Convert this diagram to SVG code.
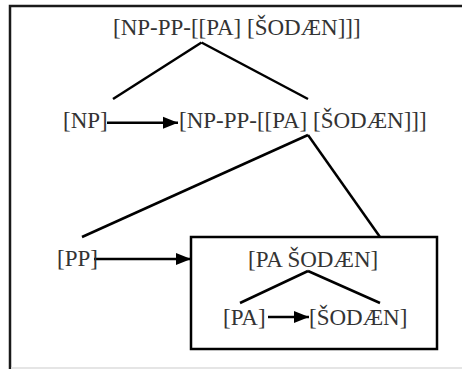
<svg xmlns="http://www.w3.org/2000/svg" width="462" height="369" viewBox="0 0 462 369">
<defs>
<style>
text{font-family:"Liberation Serif","Times New Roman",serif;font-size:23px;fill:#333}
.ln{stroke:#000;stroke-width:2.5;fill:none}
.fr{stroke:#1a1a1a;stroke-width:2.5;fill:none}
</style>
<marker id="ah" markerUnits="userSpaceOnUse" markerWidth="16" markerHeight="13" refX="15" refY="6.5" orient="auto">
<path d="M0,0.5 L15,6.5 L0,12.5 Z" fill="#000"/>
</marker>
</defs>
<rect width="462" height="369" fill="#fff"/>
<g id="frame">
<path class="fr" d="M10,369 V6 H462"/>
<line x1="11" y1="368" x2="462" y2="368" stroke="#ddd" stroke-width="1.5"/>
</g>
<g id="connectors">
<line class="ln" x1="201.5" y1="42.5" x2="113" y2="99"/>
<line class="ln" x1="201.5" y1="42.5" x2="308" y2="99"/>
<line class="ln" x1="107" y1="122.7" x2="178" y2="122.7" marker-end="url(#ah)"/>
<line class="ln" x1="308" y1="135" x2="82" y2="237"/>
<line class="ln" x1="308" y1="135" x2="380" y2="237"/>
<line class="ln" x1="94" y1="259" x2="191" y2="259" marker-end="url(#ah)"/>
<line class="ln" x1="308" y1="271" x2="240" y2="303"/>
<line class="ln" x1="308" y1="271" x2="380" y2="303"/>
<line class="ln" x1="268" y1="317" x2="309" y2="317" marker-end="url(#ah)"/>
</g>
<g id="n-top"><text x="113" y="35">[NP-PP-[[PA] [ŠODÆN]]]</text></g>
<g id="n-np"><text x="63" y="128">[NP]</text></g>
<g id="n-mid"><text x="179" y="128">[NP-PP-[[PA] [ŠODÆN]]]</text></g>
<g id="n-pp"><text x="57" y="265.5">[PP]</text></g>
<g id="n-box">
<rect x="191" y="237" width="246" height="112" fill="none" stroke="#000" stroke-width="2.5"/>
<text x="248" y="267">[PA ŠODÆN]</text>
</g>
<g id="n-pa"><text x="223" y="325">[PA]</text></g>
<g id="n-sodaen"><text x="309" y="325">[ŠODÆN]</text></g>
</svg>
